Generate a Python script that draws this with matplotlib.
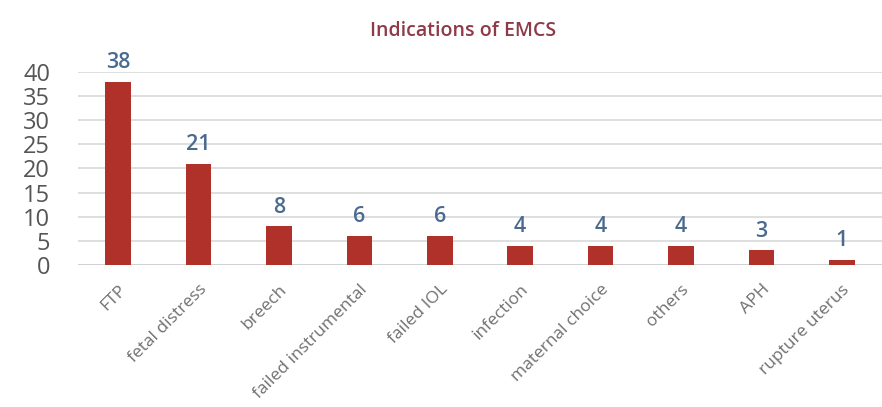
import matplotlib
matplotlib.use("Agg")
import matplotlib.pyplot as plt

categories = ["FTP", "fetal distress", "breech", "failed instrumental", "failed IOL",
              "infection", "maternal choice", "others", "APH", "rupture uterus"]
values = [38, 21, 8, 6, 6, 4, 4, 4, 3, 1]
yticks = [0, 5, 10, 15, 20, 25, 30, 35, 40]
title = "Indications of EMCS"

plt.rcParams['font.family'] = ['Open Sans', 'DejaVu Sans']
fig = plt.figure(figsize=(8.82, 4.07), dpi=100)
ax = fig.add_axes([0.0884, 0.349, 0.9116, 0.474])

x = range(len(categories))
ax.bar(x, values, width=0.32, color="#B0302A", zorder=3)
for xi, v in zip(x, values):
    ax.text(xi, v + 1.8, str(v), ha="center", va="bottom", fontsize=15.5,
            color="#4A6A90", fontweight="semibold", clip_on=False)

ax.set_xlim(-0.5, len(categories) - 0.5)
ax.set_ylim(0, 40)
ax.set_yticks(yticks)
ax.set_yticklabels([str(t) for t in yticks], fontsize=17, color="#555555")
ax.set_xticks(list(x))
ax.set_xticklabels(categories, rotation=45, ha="right", rotation_mode="anchor",
                   fontsize=12.5, color="#707070")
ax.tick_params(axis="both", length=0)
ax.tick_params(axis="y", pad=20)
ax.tick_params(axis="x", pad=12)
ax.yaxis.grid(True, color="#D9D9D9", linewidth=1.2, zorder=0)
for s in ax.spines.values():
    s.set_visible(False)
ax.axhline(0, color="#D0D0D0", linewidth=1.2, zorder=2)

fig.text(0.525, 0.925, title, ha="center", va="center", fontsize=14,
         color="#8E3A48", fontweight="semibold")

fig.savefig("out.png", dpi=100)
